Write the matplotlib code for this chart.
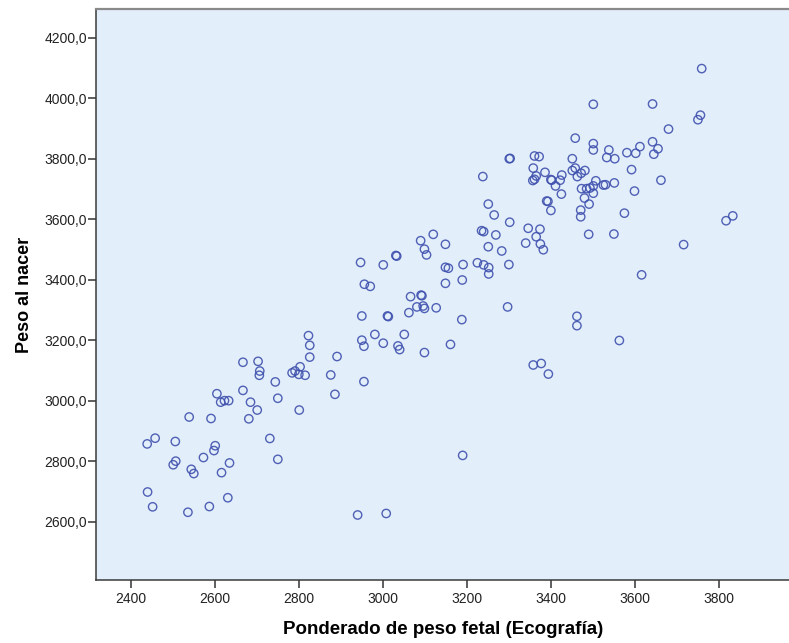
import numpy as np
import matplotlib
matplotlib.use("Agg")
import matplotlib.pyplot as plt
from matplotlib.ticker import FuncFormatter

plt.rcParams["font.family"] = ["Liberation Sans", "DejaVu Sans"]

# ponderado de peso fetal (ecografía) vs peso al nacer
peso_fetal = [
    2822, 2825, 2825, 2890, 2666, 2702, 2706, 2705, 2783, 2790,
    2802, 2799, 2814, 2875, 2743, 2885, 2604, 2666, 2613, 2622,
    2632, 2684, 2749, 2700, 2800, 2538, 2590, 2680, 2457, 2438,
    2505, 2730, 2600, 2597, 2572, 2749, 2506, 2500, 2543, 2549,
    2634, 2615, 2439, 2451, 2535, 2586, 2630,
    3389, 3392, 3399, 3250, 3264, 3301, 3345, 3373, 3364, 3374,
    3381, 3339, 3234, 3239, 3268, 3250, 3282, 3299, 3224, 3239,
    3251, 3251, 3190, 3148, 3155, 3148, 3188, 3119, 3089, 3098,
    3103, 3148, 3030, 3032, 3000, 2946, 2955, 2969, 3065, 3090,
    3092, 3080, 3095, 3098, 3061, 3126, 2949, 3010, 3012, 3187,
    3296, 2980, 3050, 2949, 2954, 3000, 3035, 3039, 3098, 3160,
    3357, 3376, 3393, 2954,
    3758, 3500, 3641, 3755, 3749, 3679, 3457, 3500, 3500, 3537,
    3532, 3551, 3580, 3601, 3611, 3641, 3654, 3644, 3591, 3661,
    3598, 3574, 3549, 3489, 3715, 3300, 3302, 3360, 3371, 3357,
    3385, 3364, 3356, 3360, 3399, 3401, 3425, 3421, 3410, 3424,
    3450, 3457, 3450, 3462, 3471, 3480, 3506, 3500, 3492, 3484,
    3472, 3524, 3529, 3550, 3500, 3479, 3490, 3470, 3470, 3237,
    3832, 3816, 3615, 3461, 3461, 3562, 3189, 2939, 3007,
]
peso_nacer = [
    3215, 3183, 3144, 3146, 3127, 3130, 3098, 3084, 3092, 3098,
    3112, 3087, 3084, 3085, 3062, 3021, 3023, 3034, 2995, 3000,
    3000, 2995, 3008, 2969, 2969, 2946, 2941, 2940, 2876, 2857,
    2865, 2875, 2851, 2835, 2812, 2806, 2800, 2788, 2773, 2759,
    2794, 2762, 2698, 2649, 2631, 2650, 2679,
    3660, 3659, 3629, 3650, 3614, 3590, 3570, 3567, 3542, 3518,
    3499, 3521, 3562, 3559, 3548, 3509, 3495, 3450, 3456, 3449,
    3440, 3419, 3450, 3441, 3438, 3388, 3399, 3550, 3529, 3501,
    3482, 3517, 3480, 3478, 3449, 3457, 3385, 3378, 3344, 3349,
    3347, 3310, 3313, 3305, 3291, 3307, 3280, 3280, 3278, 3268,
    3310, 3219, 3219, 3200, 3180, 3190, 3181, 3169, 3159, 3186,
    3118, 3123, 3088, 3063,
    4098, 3980, 3981, 3944, 3929, 3898, 3868, 3850, 3829, 3829,
    3804, 3800, 3820, 3818, 3840, 3856, 3833, 3815, 3764, 3729,
    3693, 3620, 3551, 3550, 3516, 3800, 3801, 3809, 3807, 3769,
    3755, 3743, 3728, 3732, 3731, 3729, 3746, 3729, 3710, 3683,
    3800, 3769, 3761, 3741, 3752, 3761, 3727, 3710, 3703, 3701,
    3701, 3713, 3714, 3720, 3686, 3670, 3650, 3630, 3608, 3741,
    3611, 3595, 3416, 3279, 3248, 3199, 2819, 2622, 2627,
]

x_ticks = [2400, 2600, 2800, 3000, 3200, 3400, 3600, 3800]
y_ticks = [2600, 2800, 3000, 3200, 3400, 3600, 3800, 4000, 4200]

fig = plt.figure(figsize=(7.89, 6.43), dpi=100)
ax = fig.add_axes([0.1221, 0.0975, 0.878, 0.888])
ax.set_facecolor("#E2EEFA")

ax.scatter(
    peso_fetal, peso_nacer,
    s=36, facecolors="none", edgecolors="#3F51AE",
    linewidths=1.0, alpha=0.9, zorder=3,
)

ax.set_xlim(2317, 3966)
ax.set_ylim(2406, 4294)
ax.set_xticks(x_ticks)
ax.set_yticks(y_ticks)
ax.yaxis.set_major_formatter(FuncFormatter(lambda v, p: f"{v:.1f}".replace(".", ",")))
ax.tick_params(axis="both", direction="out", length=6, width=1.1,
               color="#333333", labelsize=10, labelcolor="#222222")
ax.tick_params(axis="x", pad=2.5)
ax.tick_params(axis="y", pad=0.8)

for side in ["left", "bottom"]:
    ax.spines[side].set_color("#3a3a3a")
    ax.spines[side].set_linewidth(1.1)
ax.spines["top"].set_color("#8a8a8a")
ax.spines["top"].set_linewidth(1.6)
ax.spines["right"].set_visible(False)

ax.set_xlabel("Ponderado de peso fetal (Ecografía)", fontsize=13.5,
              fontweight="bold", labelpad=11)
ax.set_ylabel("Peso al nacer", fontsize=13, fontweight="bold", labelpad=8)

fig.savefig("out.png", dpi=100)
